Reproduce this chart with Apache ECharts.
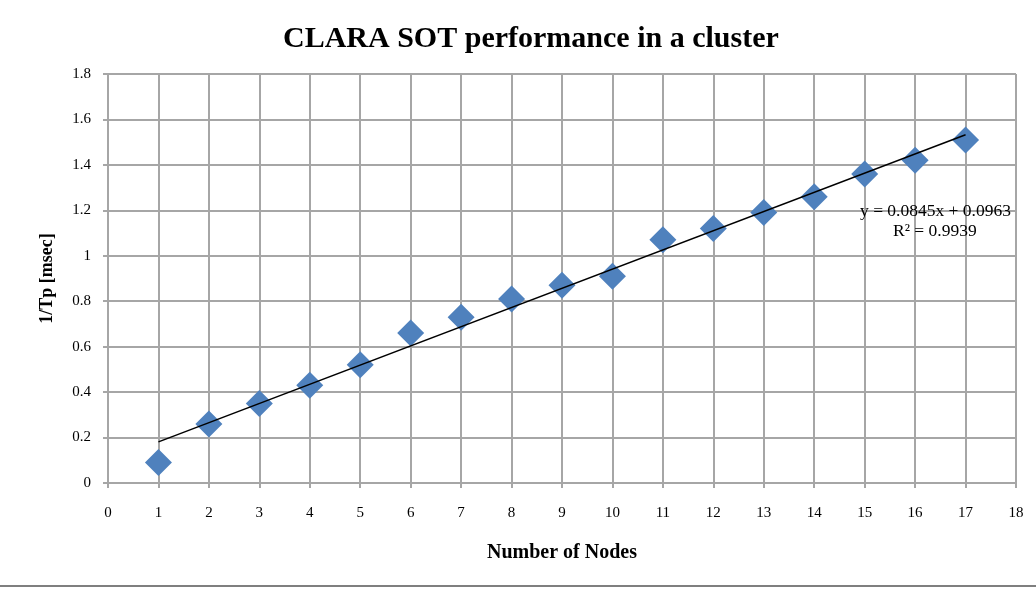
<!DOCTYPE html>
<html>
<head>
<meta charset="utf-8">
<script src="https://cdn.jsdelivr.net/npm/echarts@6/dist/echarts.min.js"></script>
<style>
  html, body { margin: 0; padding: 0; background: #fff; }
  #Chart { width: 1036px; height: 589px; }
</style>
</head>
<body>
<div id="Chart"></div>
<script>
  // measured points (nodes vs 1/Tp)
  var nodes = [1, 2, 3, 4, 5, 6, 7, 8, 9, 10, 11, 12, 13, 14, 15, 16, 17];
  var invTp = [0.09, 0.26, 0.35, 0.43, 0.52, 0.66, 0.73, 0.81, 0.87, 0.91, 1.07, 1.12, 1.19, 1.26, 1.36, 1.42, 1.51];

  // linear trend line end points (y = 0.0845x + 0.0963)
  var trendX = [1, 17];
  var trendY = [0.1808, 1.5328];
  var trendText = ['y = 0.0845x + 0.0963', 'R² = 0.9939'];

  var serif = '"Liberation Serif", "DejaVu Serif", serif';

  var Chart = echarts.init(document.getElementById('Chart'));
  Chart.setOption({
    animation: false,
    backgroundColor: '#fff',
    title: {
      text: 'CLARA SOT performance in a cluster',
      left: 278,
      top: 19,
      textStyle: { fontFamily: serif, fontSize: 30, fontWeight: 'bold', color: '#000' }
    },
    grid: { left: 108, right: 20, top: 74, bottom: 106 },
    xAxis: {
      type: 'value',
      min: 0,
      max: 18,
      interval: 1,
      name: 'Number of Nodes',
      nameLocation: 'middle',
      nameGap: 60,
      nameTextStyle: { fontFamily: serif, fontSize: 20, fontWeight: 'bold', color: '#000' },
      axisLine: { lineStyle: { color: '#a6a6a6', width: 2 } },
      axisTick: { show: true, length: 5, lineStyle: { color: '#a6a6a6', width: 2 } },
      axisLabel: { fontFamily: serif, fontSize: 15, color: '#000', margin: 23 },
      splitLine: { lineStyle: { color: '#a6a6a6', width: 2 } }
    },
    yAxis: {
      type: 'value',
      min: 0,
      max: 1.8,
      interval: 0.2,
      name: '1/Tp [msec]',
      nameLocation: 'middle',
      nameGap: 52,
      nameTextStyle: { fontFamily: serif, fontSize: 18, fontWeight: 'bold', color: '#000' },
      axisLine: { show: true, lineStyle: { color: '#a6a6a6', width: 2 } },
      axisTick: { show: true, length: 5, lineStyle: { color: '#a6a6a6', width: 2 } },
      axisLabel: {
        fontFamily: serif, fontSize: 15, color: '#000', margin: 17,
        formatter: function (v) { return +v.toFixed(1) + ''; }
      },
      splitLine: { lineStyle: { color: '#a6a6a6', width: 2 } }
    },
    series: [{
      name: 'trend',
      type: 'line',
      data: trendX.map(function (x, i) { return [x, trendY[i]]; }),
      symbol: 'none',
      lineStyle: { color: '#000', width: 1.5 },
      z: 3
    }, {
      name: '1/Tp',
      type: 'scatter',
      data: nodes.map(function (x, i) { return [x, invTp[i]]; }),
      symbol: 'diamond',
      symbolSize: [27, 27],
      itemStyle: { color: '#4f81bd', opacity: 1 },
      z: 2
    }],
    graphic: [{
      type: 'text',
      left: 860,
      top: 202,
      z: 10,
      style: { text: trendText[0], fontFamily: serif, fontSize: 17.5, fill: '#000' }
    }, {
      type: 'text',
      left: 893,
      top: 222,
      z: 10,
      style: { text: trendText[1], fontFamily: serif, fontSize: 17.5, fill: '#000' }
    }, {
      type: 'line',
      shape: { x1: 0, y1: 586, x2: 1036, y2: 586 },
      style: { stroke: '#555', lineWidth: 1.5 }
    }]
  });
</script>
</body>
</html>
